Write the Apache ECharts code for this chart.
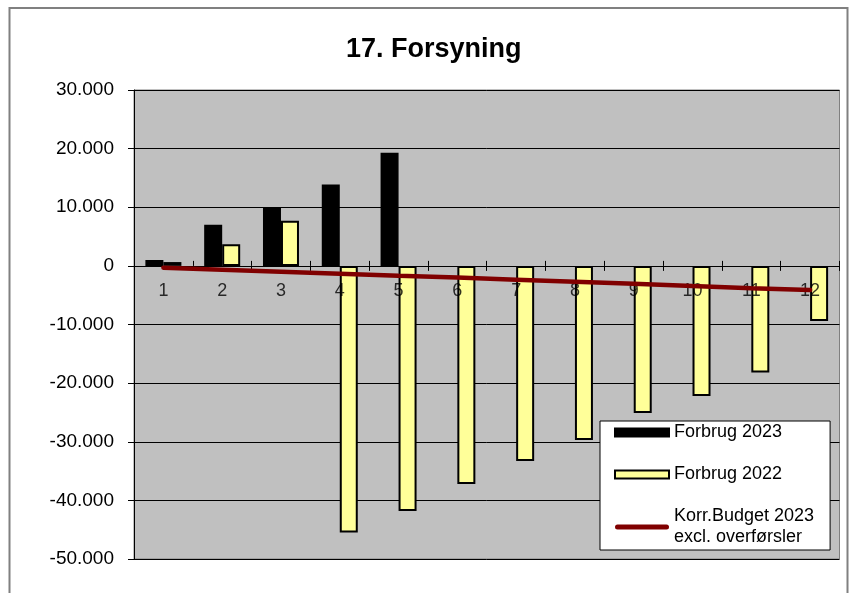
<!DOCTYPE html>
<html>
<head>
<meta charset="utf-8">
<script src="https://cdn.jsdelivr.net/npm/echarts@6/dist/echarts.min.js"></script>
<style>
html,body{margin:0;padding:0;background:#fff;}
#chart{width:850px;height:593px;}
</style>
</head>
<body>
<div id="chart"></div>
<script>
var months = ['1','2','3','4','5','6','7','8','9','10','11','12'];
var forbrug2023 = [1000, 7000, 10000, 13900, 19300, null, null, null, null, null, null, null];
var forbrug2022 = [650, 3700, 7700, -45500, -41800, -37200, -33300, -29700, -25100, -22200, -18200, -9400];
var budget2023 = [-300, -650, -1000, -1350, -1700, -2000, -2350, -2700, -3050, -3450, -3800, -4100];
var yMin = -50000, yMax = 30000, yStep = 10000;

var gridTop = 90, gridBottom = 34, chartH = 593;
var gridH = chartH - gridTop - gridBottom;
// distance of the zero line above the bottom edge of the plot
var zeroOffset = gridH * (0 - yMin) / (yMax - yMin);

var chart = echarts.init(document.getElementById('chart'));
function fmt(v){
  if (v === 0) return '0';
  var s = Math.abs(v).toString();
  var out = '';
  while (s.length > 3) { out = '.' + s.slice(-3) + out; s = s.slice(0, -3); }
  out = s + out;
  return (v < 0 ? '-' : '') + out;
}
var font = 'Liberation Sans, Arial, sans-serif';
var lineIcon = 'path://M2.5,0 L51.5,0 A2.5,2.5 0 0 1 51.5,5 L2.5,5 A2.5,2.5 0 0 1 2.5,0 Z';
// category labels sit on the zero line, drawn above the bars like the original
var labelPoints = months.map(function (m) { return [m, 0]; });

chart.setOption({
  animation: false,
  backgroundColor: '#ffffff',
  textStyle: {fontFamily: font},
  graphic: [{
    type: 'rect', z: -10, silent: true,
    shape: {x: 9.5, y: 8, width: 838, height: 620},
    style: {fill: 'none', stroke: '#808080', lineWidth: 2}
  }],
  title: {
    text: '17. Forsyning', left: 341, top: 31,
    textStyle: {fontFamily: font, fontSize: 27, fontWeight: 'bold', color: '#000'}
  },
  legend: {
    orient: 'vertical', left: 600, top: 421,
    backgroundColor: '#ffffff', borderColor: '#000', borderWidth: 1,
    padding: [1, 16, 2, 14], itemGap: 21, itemWidth: 54, itemHeight: 8,
    textStyle: {fontFamily: font, fontSize: 18, color: '#000', lineHeight: 21},
    data: [
      {name: 'Forbrug 2023', icon: 'rect'},
      {name: 'Forbrug 2022', icon: 'rect'},
      {name: 'Korr.Budget 2023\nexcl. overførsler', icon: lineIcon,
       itemStyle: {color: '#800000', borderWidth: 0}}
    ]
  },
  grid: {
    left: 134, right: 10.5, top: gridTop, bottom: gridBottom,
    show: true, backgroundColor: '#C0C0C0', borderColor: '#808080', borderWidth: 1
  },
  xAxis: [{
    type: 'category', data: months,
    offset: -zeroOffset,
    axisLine: {onZero: false, lineStyle: {color: '#000', width: 1}},
    axisTick: {show: true, length: 5, inside: false, lineStyle: {color: '#000'}},
    axisLabel: {show: false}
  }, {
    type: 'category', data: months,
    offset: -zeroOffset, position: 'bottom',
    axisLine: {show: false, onZero: false},
    axisTick: {show: true, length: 5, inside: true, lineStyle: {color: '#000'}},
    axisLabel: {show: false},
    splitLine: {show: false}
  }],
  yAxis: {
    type: 'value', min: yMin, max: yMax, interval: yStep,
    axisLine: {show: true, lineStyle: {color: '#000', width: 1}},
    axisTick: {show: true, length: 6, lineStyle: {color: '#000'}},
    splitLine: {show: true, lineStyle: {color: '#000', width: 1}},
    axisLabel: {fontFamily: font, fontSize: 19, color: '#000', margin: 20, formatter: fmt}
  },
  series: [
    {
      name: 'Forbrug 2023', type: 'bar', data: forbrug2023, z: 2,
      barWidth: 18, barGap: '0%',
      itemStyle: {color: '#000000', borderColor: '#000', borderWidth: 1.5}
    },
    {
      name: 'Forbrug 2022', type: 'bar', data: forbrug2022, z: 2,
      barWidth: 18,
      itemStyle: {color: '#FFFF99', borderColor: '#000', borderWidth: 2}
    },
    {
      name: 'axisLabels', type: 'scatter', data: labelPoints, z: 3,
      symbolSize: 0, silent: true, legendHoverLink: false, tooltip: {show: false},
      label: {
        show: true, position: 'bottom', distance: 16,
        formatter: function (p) { return p.value[0]; },
        fontFamily: font, fontSize: 18, color: '#000'
      }
    },
    {
      name: 'Korr.Budget 2023\nexcl. overførsler', type: 'line', data: budget2023, z: 5,
      symbol: 'none', showSymbol: false,
      lineStyle: {color: '#800000', width: 4.5, cap: 'round'},
      itemStyle: {color: '#800000'}
    }
  ]
});
</script>
</body>
</html>
